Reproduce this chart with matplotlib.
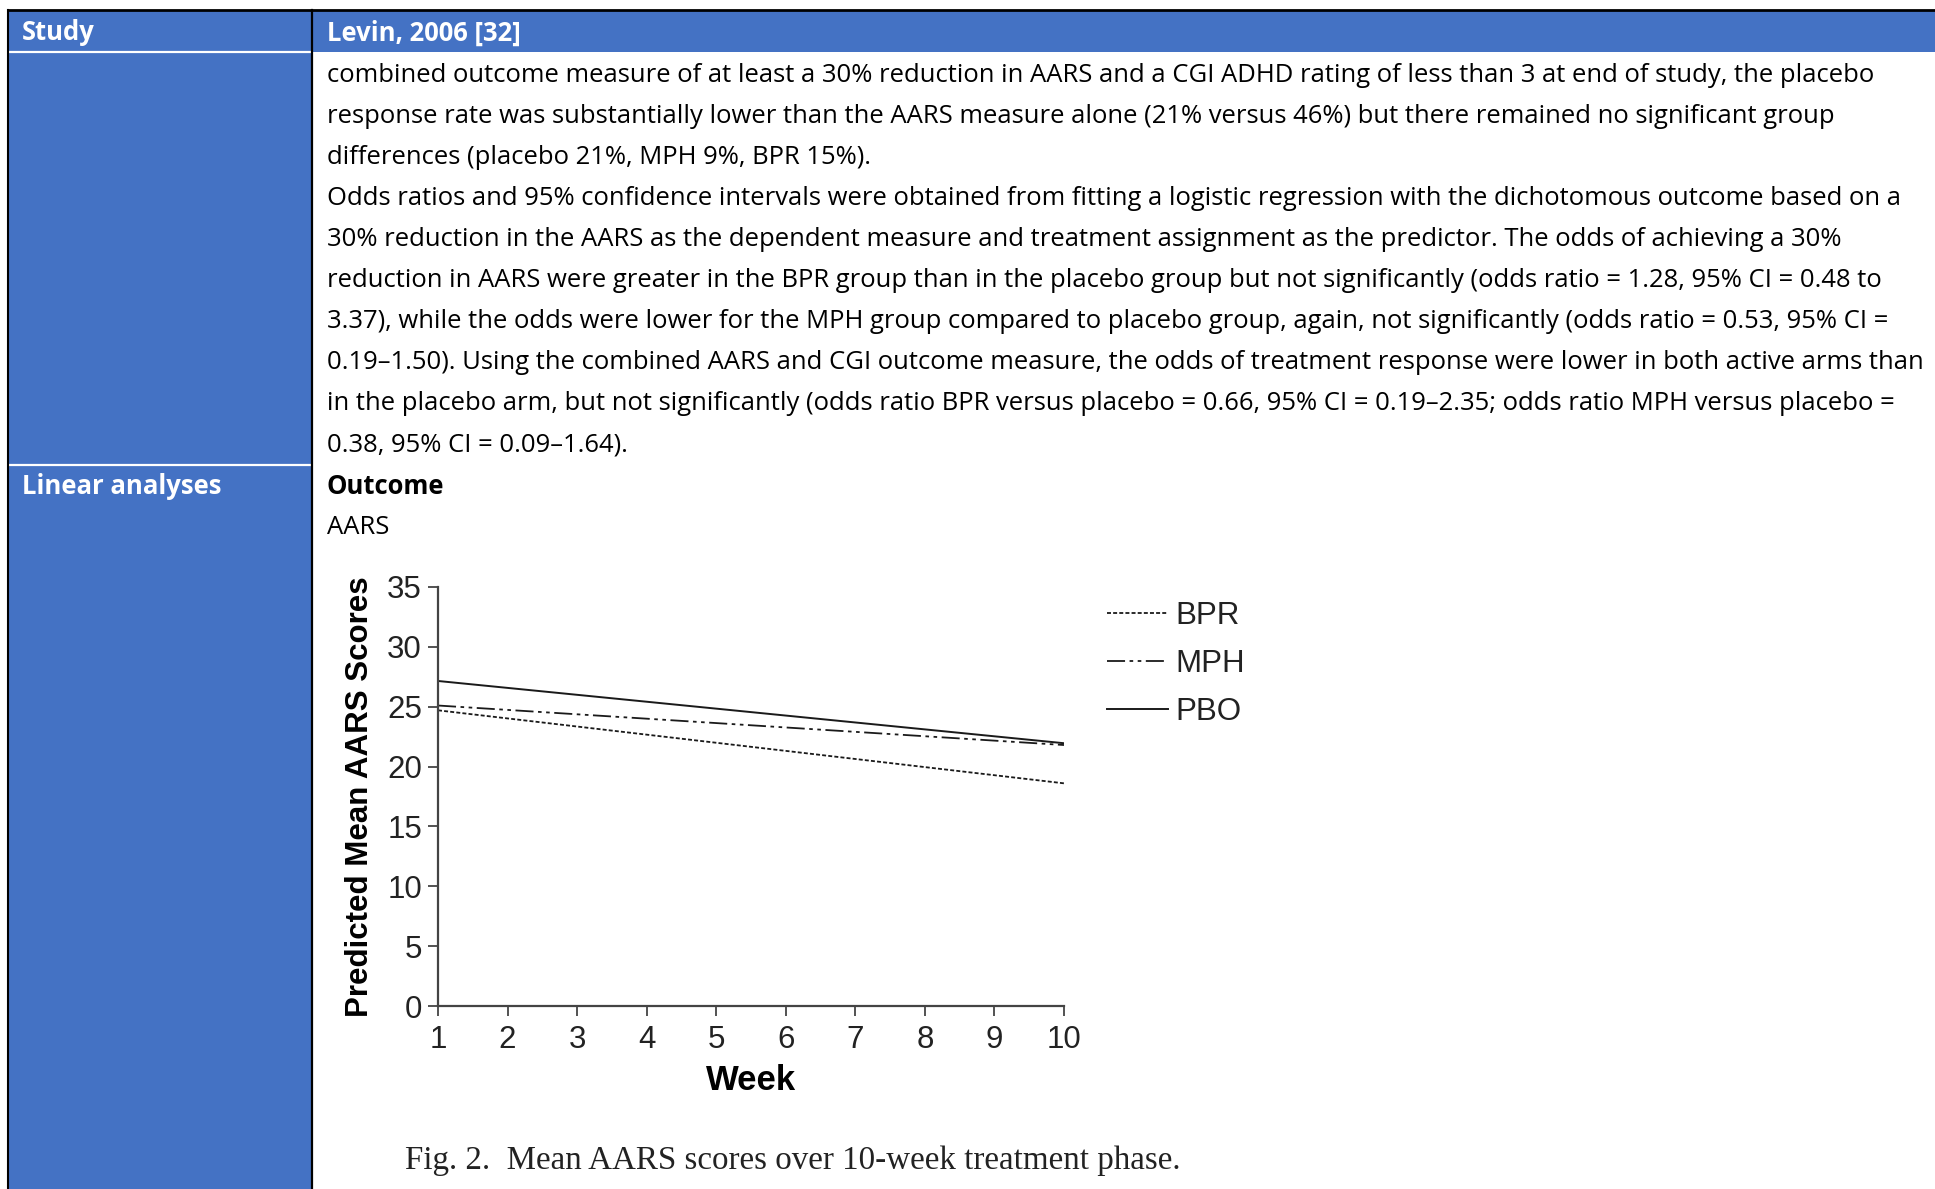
import matplotlib
matplotlib.use("Agg")
import matplotlib.pyplot as plt
from matplotlib.patches import Rectangle

# ---- data ----
weeks = [1, 10]
bpr_scores = [24.7, 18.6]
mph_scores = [25.1, 21.8]
pbo_scores = [27.15, 21.95]
series_labels = ["BPR", "MPH", "PBO"]
y_ticks = [0, 5, 10, 15, 20, 25, 30, 35]
x_ticks = list(range(1, 11))

header_left = "Study"
header_right = "Levin, 2006 [32]"
row2_left = "Linear analyses"
body_lines = [
    "combined outcome measure of at least a 30% reduction in AARS and a CGI ADHD rating of less than 3 at end of study, the placebo",
    "response rate was substantially lower than the AARS measure alone (21% versus 46%) but there remained no significant group",
    "differences (placebo 21%, MPH 9%, BPR 15%).",
    "Odds ratios and 95% confidence intervals were obtained from fitting a logistic regression with the dichotomous outcome based on a",
    "30% reduction in the AARS as the dependent measure and treatment assignment as the predictor. The odds of achieving a 30%",
    "reduction in AARS were greater in the BPR group than in the placebo group but not significantly (odds ratio = 1.28, 95% CI = 0.48 to",
    "3.37), while the odds were lower for the MPH group compared to placebo group, again, not significantly (odds ratio = 0.53, 95% CI =",
    "0.19\u20131.50). Using the combined AARS and CGI outcome measure, the odds of treatment response were lower in both active arms than",
    "in the placebo arm, but not significantly (odds ratio BPR versus placebo = 0.66, 95% CI = 0.19\u20132.35; odds ratio MPH versus placebo =",
    "0.38, 95% CI = 0.09\u20131.64).",
]
caption = "Fig. 2.  Mean AARS scores over 10-week treatment phase."

W, H = 1935, 1189
BLUE = "#4472C4"
BODY_FONT = ["Open Sans", "DejaVu Sans"]
CHART_FONT = ["Liberation Sans", "DejaVu Sans"]

fig = plt.figure(figsize=(W / 100, H / 100), dpi=100)
fig.patch.set_facecolor("white")
renderer = fig.canvas.get_renderer()

bg = fig.add_axes([0, 0, 1, 1])
bg.set_xlim(0, W)
bg.set_ylim(H, 0)
bg.axis("off")


def fitted_size(s, target_px, **kw):
    t = bg.text(0, 0, s, fontsize=20, **kw)
    w = t.get_window_extent(renderer).width
    t.remove()
    return 20 * target_px / w


# table background
bg.add_patch(Rectangle((9, 11), W - 9, 41, facecolor=BLUE, edgecolor="none"))
bg.add_patch(Rectangle((9, 52), 303, H - 52, facecolor=BLUE, edgecolor="none"))
bg.plot([9, 311], [52, 52], color="white", lw=1.6)
bg.plot([9, 311], [465, 465], color="white", lw=1.6)
bg.plot([7, W], [10, 10], color="black", lw=2.0, solid_capstyle="butt")
bg.plot([8, 8], [10, H], color="black", lw=1.5)
bg.plot([312, 312], [10, H], color="black", lw=1.6)

body_size = fitted_size(body_lines[0], 1546, family=BODY_FONT)

bg.text(22, 33, header_left, color="white", fontsize=body_size, fontweight="bold",
        family=BODY_FONT, va="center")
bg.text(327, 33, header_right, color="white", fontsize=body_size, fontweight="bold",
        family=BODY_FONT, va="center")

for i, line in enumerate(body_lines):
    bg.text(327, 75 + i * 41.1, line, fontsize=body_size, family=BODY_FONT,
            va="center", color="black")

bg.text(22, 487, row2_left, color="white", fontsize=body_size, fontweight="bold",
        family=BODY_FONT, va="center")
bg.text(327, 487, "Outcome", fontsize=body_size, fontweight="bold",
        family=BODY_FONT, va="center")
bg.text(327, 528, "AARS", fontsize=body_size, family=BODY_FONT, va="center")

cap_size = fitted_size(caption, 777, family=["Liberation Serif"])
bg.text(405, 1161, caption, fontsize=cap_size, family=["Liberation Serif"],
        va="center", color="#222222")

# ---- the chart ----
ax = fig.add_axes([438 / W, 1 - 1006 / H, (1064 - 438) / W, (1006 - 587) / H])
ax.patch.set_alpha(0)
lc = "#1a1a1a"
ax.plot(weeks, bpr_scores, color=lc, lw=1.3, dashes=(2.2, 1.2), label=series_labels[0])
ax.plot(weeks, mph_scores, color=lc, lw=1.3, dashes=(10, 2.5, 2, 2.5, 2, 2.5), label=series_labels[1])
ax.plot(weeks, pbo_scores, color=lc, lw=1.4, label=series_labels[2])

ax.set_xlim(1, 10)
ax.set_ylim(0, 35)
ax.set_xticks(x_ticks)
ax.set_yticks(y_ticks)
for s in ["top", "right"]:
    ax.spines[s].set_visible(False)
for s in ["left", "bottom"]:
    ax.spines[s].set_color("#444444")
    ax.spines[s].set_linewidth(1.6)
ax.tick_params(direction="out", length=7.5, width=1.3, color="#444444",
               labelsize=22.5, pad=4)
ax.tick_params(axis="x", pad=6)
for lab in ax.get_xticklabels() + ax.get_yticklabels():
    lab.set_family(CHART_FONT)
    lab.set_color("#222222")

ax.set_xlabel("Week", fontsize=25, fontweight="bold", family=CHART_FONT, labelpad=7)
ax.set_ylabel("Predicted Mean AARS Scores", fontsize=22.5, fontweight="bold",
              family=CHART_FONT, labelpad=9)

leg = ax.legend(loc="upper left", bbox_to_anchor=(1107 / W, 1 - 601 / H),
                bbox_transform=fig.transFigure, frameon=False,
                prop={"family": CHART_FONT, "size": 22.5},
                handlelength=1.95, handletextpad=0.25, labelspacing=0.58,
                borderpad=0, borderaxespad=0)
for t in leg.get_texts():
    t.set_color("#222222")

fig.savefig("out.png", dpi=100, facecolor="white")
